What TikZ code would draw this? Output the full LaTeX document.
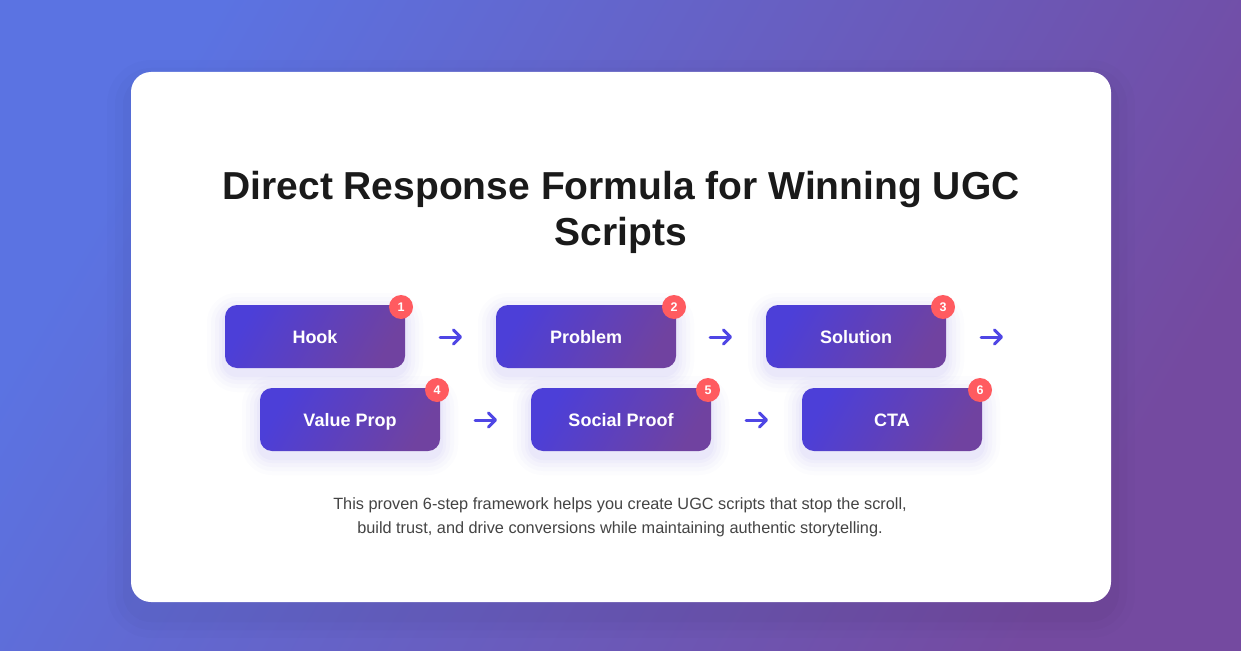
\documentclass[tikz,border=0pt]{standalone}
\usepackage{fontspec}
\setmainfont{Liberation Sans}
\usetikzlibrary{arrows.meta}
\definecolor{bgA}{HTML}{5B73E2}
\definecolor{bgB}{HTML}{744AA0}
\definecolor{boxA}{HTML}{4C3FD8}
\definecolor{boxB}{HTML}{7042A0}
\definecolor{badge}{HTML}{FF5B60}
\definecolor{arrowc}{HTML}{4F46E5}
\definecolor{titlec}{HTML}{1A1A1A}
\definecolor{subc}{HTML}{444444}
\definecolor{glow}{HTML}{7A6AF5}
\tikzset{
  stepbox/.style={minimum width=180pt, minimum height=63pt, rounded corners=12pt,
    text=white, font=\bfseries\fontsize{18}{20}\selectfont, inner sep=0pt,
    text height=13pt, text depth=0pt},
  badgedot/.style={circle, fill=badge, minimum size=24pt, inner sep=0pt,
    text=white, font=\bfseries\fontsize{12.5}{12}\selectfont},
  flowarrow/.style={draw=arrowc, line width=3pt, line cap=round,
    -{Straight Barb[length=7pt,width=14pt,line width=3pt,round]}},
}
\newcommand{\stepnode}[4]{% name, cx, cy, text
  \foreach \g/\o in {18/0.02,14/0.025,10/0.03,6/0.035,3/0.04}{
    \fill[glow,opacity=\o,rounded corners=12pt+\g pt]
      (#2-90-\g,#3-31.5-\g+6) rectangle (#2+90+\g,#3+31.5+\g+6);
  }
  \shade[left color=boxA, right color=boxB, shading angle=60, rounded corners=12pt]
    (#2-90,#3-31.5) rectangle (#2+90,#3+31.5);
  \node[stepbox] (#1) at (#2,#3) {#4};
}
\begin{document}
\begin{tikzpicture}[x=1pt,y=-1pt]
\useasboundingbox (0,0) rectangle (1241,650);
\shade[left color=bgA, right color=bgB, shading angle=60] (0,0) rectangle (1241,650);
% card shadow
\foreach \g/\o in {24/0.012,16/0.015,8/0.02}{
  \fill[black,opacity=\o,rounded corners=20pt+\g pt] (131-\g,72-\g+12) rectangle (1111+\g,602+\g+12);
}
\fill[white,rounded corners=20pt] (131,72) rectangle (1111,602);
\node[text=titlec, font=\bfseries\fontsize{39}{46}\selectfont, align=center] (title) at (621,212)
  {Direct Response Formula for Winning UGC\\Scripts};
\stepnode{hook}{315}{336.5}{Hook}
\stepnode{problem}{586}{336.5}{Problem}
\stepnode{solution}{856}{336.5}{Solution}
\stepnode{value}{350}{419.5}{Value Prop}
\stepnode{social}{621}{419.5}{Social Proof}
\stepnode{cta}{892}{419.5}{CTA}
\node[badgedot] (b1) at (401,307) {1};
\node[badgedot] (b2) at (674,307) {2};
\node[badgedot] (b3) at (943,307) {3};
\node[badgedot] (b4) at (437,390) {4};
\node[badgedot] (b5) at (708,390) {5};
\node[badgedot] (b6) at (980,390) {6};
\coordinate (a1s) at (440,337); \coordinate (a1e) at (462,337);
\coordinate (a2s) at (710,337); \coordinate (a2e) at (732,337);
\coordinate (a3s) at (981,337); \coordinate (a3e) at (1003,337);
\coordinate (a4s) at (475,420); \coordinate (a4e) at (497,420);
\coordinate (a5s) at (746,420); \coordinate (a5e) at (768,420);
\draw[flowarrow] (a1s) -- (a1e);
\draw[flowarrow] (a2s) -- (a2e);
\draw[flowarrow] (a3s) -- (a3e);
\draw[flowarrow] (a4s) -- (a4e);
\draw[flowarrow] (a5s) -- (a5e);
\node[text=subc, font=\fontsize{16.3}{24}\selectfont, align=center] (sub) at (620,517)
  {This proven 6-step framework helps you create UGC scripts that stop the scroll,\\
   build trust, and drive conversions while maintaining authentic storytelling.};
\end{tikzpicture}
\end{document}
